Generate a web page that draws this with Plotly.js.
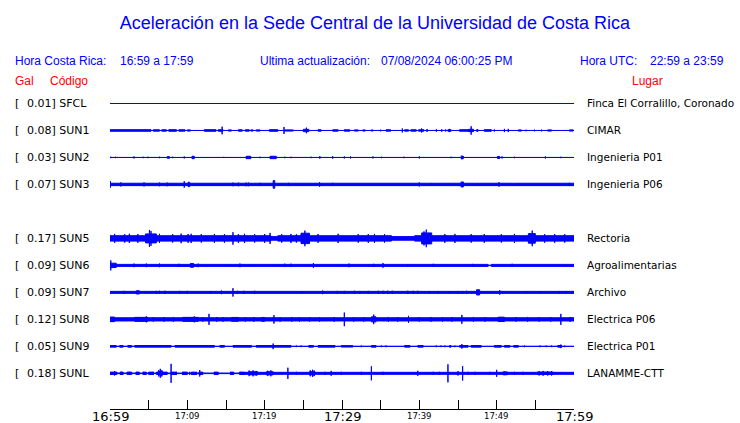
<!DOCTYPE html>
<html><head><meta charset="utf-8">
<script src="https://cdn.plot.ly/plotly-3.0.1.min.js"></script>
<style>html,body{margin:0;padding:0;background:#fff}#chart{width:740px;height:423px}</style>
</head><body><div id="chart"></div>
<script>
// ---- data ----
const title = 'Aceleración en la Sede Central de la Universidad de Costa Rica';
const codes  = ['SFCL','SUN1','SUN2','SUN3',null,'SUN5','SUN6','SUN7','SUN8','SUN9','SUNL'];
const gal    = ['0.01','0.08','0.03','0.07',null,'0.17','0.09','0.09','0.12','0.05','0.18'];
const places = ['Finca El Corralillo, Coronado','CIMAR','Ingenieria P01','Ingenieria P06',null,'Rectoria','Agroalimentarias','Archivo','Electrica P06','Electrica P01','LANAMME-CTT'];
const tickMinutes = [0,5,10,15,20,25,30,35,40,45,50,55,60];
const labelMinutes = [0,10,20,30,40,50,60];
const labelTexts = ['16:59','17:09','17:19','17:29','17:39','17:49','17:59'];
const labelMajor = [true,false,false,true,false,false,true];

// waveform activity: [startMinute, endMinute, halfAmplitude]
const sfcl = [[0,60,0]];
const sun1 = [[0,60,0],[0,5.3,0.8],[5.6,6.4,0.7],[6.7,7.3,0.7],[7.6,8.6,0.8],[8.9,9.7,0.7],[10.0,10.4,0.6],[12.2,13.7,0.8],[14.0,14.6,0.8],[14.5,14.5,3.8],[15.3,15.7,0.6],[16.6,17.1,0.7],[17.5,18.0,0.7],[18.2,18.5,0.6],[18.9,19.4,0.6],[20.6,21.7,0.8],[22.5,22.5,3.5],[22.6,23.7,0.6],[25.0,25.7,1.2],[25.4,25.4,2.8],[26.9,27.3,0.7],[28.8,29.5,0.7],[30.3,31.0,0.7],[31.6,32.1,0.6],[32.7,33.0,0.6],[33.8,34.0,0.6],[35.0,35.0,0.8],[35.7,36.3,0.7],[37.8,37.8,2.0],[38.1,38.6,0.7],[38.9,39.6,0.7],[39.9,40.6,0.7],[40.3,40.3,2.0],[41.0,41.0,1.5],[42.2,42.2,1.2],[42.9,42.9,1.2],[43.4,43.4,1.0],[43.7,44.1,0.8],[43.9,43.9,1.6],[45.2,46.5,0.8],[46.4,47.0,1.2],[46.7,46.7,4.2],[47.4,47.6,0.8],[48.4,49.3,0.8],[49.7,49.7,1.0],[51.0,51.0,1.6],[51.5,51.5,1.6],[52.8,53.2,0.6],[53.8,53.8,0.8],[54.9,54.9,0.8],[55.8,55.8,0.8],[56.6,57.1,0.6],[59.4,59.9,0.6]];
const sun2 = [[0,60,0],[0.1,0.1,0.7],[0.7,0.7,0.7],[3.1,3.1,1],[4.3,4.3,0.7],[4.9,4.9,0.7],[6.4,6.4,0.7],[7.4,7.7,0.8],[8.1,8.1,0.7],[9.6,9.6,1],[10.6,10.9,1.2],[14.7,14.7,0.6],[17.6,18.2,1.2],[19.4,19.4,0.7],[20.7,21.5,1.2],[22.6,22.6,0.7],[23.4,23.4,0.7],[26.0,26.0,0.7],[27.1,27.1,1],[27.2,27.2,0.7],[28.8,28.8,1.2],[30.3,30.3,1],[31.1,31.1,1],[34.0,34.0,1],[35.1,35.1,0.7],[38.0,38.0,0.7],[40.0,40.0,1],[44.1,44.1,0.7],[45.4,45.7,1.2],[45.5,45.5,1.8],[50.1,50.4,1],[50.7,50.7,1],[52.3,52.3,0.7],[56.3,56.3,1],[58.3,58.3,0.7]];
const sun3 = [[0,60,1.2],[0.05,0.05,3.2],[1.4,1.4,2],[4.4,4.4,2],[6.4,6.4,1.8],[7.4,7.4,1.8],[9.6,9.6,3.2],[10.1,10.3,2.2],[15.9,15.9,1.8],[16.6,16.6,1.8],[17.6,17.6,1.8],[17.9,17.9,1.8],[19.4,19.4,1.6],[21.1,21.3,3.8],[23.1,23.1,1.6],[27.1,27.1,2.2],[28.8,28.8,1.6],[40.0,40.0,2],[41.6,41.6,1.4],[45.4,45.7,2.5],[47.5,47.5,1.4],[50.3,50.3,2.2],[52.8,52.8,1.4],[59.4,59.4,1.6]];
const sun5 = [[0,20.8,2.7],[20.8,21.7,1.8],[21.7,36.4,2.7],[36.4,39.4,1.8],[39.4,60,2.7],[4.6,6.0,4.5],[5.1,5.1,8.5],[5.3,5.3,7.5],[15.9,15.9,6.2],[20.7,20.7,5.5],[24.7,25.8,5.2],[25.2,25.2,7.8],[40.3,41.6,5.5],[40.6,40.6,7],[40.9,40.9,8.8],[54.1,55.0,4.8],[54.6,54.6,7.8],
  [0.6,0.6,4.5],[1.9,1.9,4.2],[2.5,2.5,4.6],[3.6,3.6,4.4],[6.4,6.4,4.6],[8.1,8.1,4.2],[9.2,9.2,4.8],[10.1,10.1,4.4],[10.5,10.5,4.6],[11.8,11.8,4.2],[13.5,13.5,4.4],[14.8,14.8,4.3],[16.6,16.6,4.4],[17.4,17.4,4.6],[18.7,18.7,4.2],[20.0,20.0,4.4],[22.2,22.2,4.3],[23.4,23.4,4.5],[24.1,24.1,4.2],[26.9,26.9,4.4],[29.5,29.5,4.6],[32.1,32.1,4.3],[33.4,33.4,4.4],[34.2,34.2,4.5],[35.5,35.5,4.2],[43.3,43.3,4.4],[44.6,44.6,4.5],[46.7,46.7,4.3],[48.4,48.4,4.4],[50.6,50.6,4.2],[52.3,52.3,4.5],[56.2,56.2,4.3],[57.5,57.5,4.4],[58.8,58.8,4.2]];
const sun6 = [[0,48.9,1.0],[48.9,49.3,0.2],[49.3,60,1.0],[0.0,0.8,2.2],[0.1,0.1,5],[3.1,3.1,1.8],[4.7,4.7,1.8],[6.4,6.4,1.8],[8.9,8.9,1.6],[10.4,10.8,1.9],[11.4,11.4,1.8],[16.8,16.8,1.8],[22.6,22.6,1.7],[23.4,23.4,1.7],[26.3,26.3,2.3],[30.9,30.9,1.8],[34.1,34.1,1.6],[35.3,35.3,2.3],[38.5,38.5,1.4],[41.8,41.8,1.6],[46.9,46.9,1.5],[52.0,52.0,1.6]];
const sun7 = [[0,60,1.0],[1.8,1.8,1.5],[3.4,3.8,1.6],[6.0,6.0,1.5],[6.4,6.4,1.6],[7.1,7.1,1.6],[9.0,9.0,1.5],[10.0,10.0,1.5],[13.0,13.0,1.4],[14.4,14.4,1.8],[15.9,15.9,4.2],[16.5,16.5,1.6],[17.3,17.3,1.6],[18.7,18.7,1.6],[24.8,24.8,1.3],[27.5,27.5,1.8],[29.4,29.4,1.5],[30.3,30.3,1.5],[31.6,31.6,1.6],[32.3,32.3,1.4],[33.4,33.4,1.5],[34.7,34.7,1.6],[35.3,35.3,1.6],[35.9,35.9,1.6],[36.5,36.5,1.6],[38.5,38.5,1.6],[39.2,39.2,1.6],[39.8,39.8,1.6],[41.3,41.3,1.4],[42.4,42.4,1.4],[43.9,43.9,1.4],[45.0,45.0,1.4],[45.6,45.6,1.4],[46.1,46.1,1.6],[47.4,47.8,2.6],[50.4,50.4,2.2],[53.8,53.8,1.2],[55.6,55.6,1.2],[58.1,58.1,1.4],[59.0,59.0,1.4],[59.7,59.7,1.4]];
const sun8 = [[0,60,1.6],[0,0.6,2.3],[3.2,4.9,2.0],[4.7,4.7,3],[9.4,11.4,2.0],[10.9,10.9,3],[12.8,12.8,5.5],[15.7,16.6,1.9],[19.6,20.0,1.9],[21.2,21.2,4.2],[27.1,27.1,2.3],[30.3,30.3,6.8],[33.8,34.4,2.5],[34.1,34.1,4.8],[38.6,38.6,3.5],[45.5,45.5,4.5],[50.2,51.0,2.2],[58.3,58.3,5.5],
  [5.6,5.6,2.3],[7.0,7.0,2.3],[8.2,8.2,2.4],[12.0,12.0,2.3],[13.8,13.8,2.4],[14.6,14.6,2.3],[17.5,17.5,2.3],[18.6,18.6,2.4],[22.0,22.0,2.3],[23.5,23.5,2.4],[24.5,24.5,2.3],[25.8,25.8,2.3],[29.0,29.0,2.4],[31.5,31.5,2.3],[32.8,32.8,2.3],[36.0,36.0,2.4],[37.2,37.2,2.3],[40.0,40.0,2.3],[41.5,41.5,2.4],[43.0,43.0,2.3],[44.2,44.2,2.3],[47.0,47.0,2.4],[48.5,48.5,2.3],[52.5,52.5,2.3],[54.0,54.0,2.4],[55.5,55.5,2.3],[57.0,57.0,2.3],[59.5,59.5,2.4]];
const sun9 = [[0,60,0],[0,0.8,0.8],[1.25,1.7,0.8],[2.3,2.8,0.8],[3.2,7.9,0.8],[8.4,13.5,0.8],[14.2,14.8,0.8],[15.9,18.3,0.8],[18.9,23.4,0.8],[24.1,24.1,0.8],[24.7,24.7,0.8],[25.7,26.3,0.8],[26.9,29.1,0.8],[29.9,31.4,0.7],[32.5,32.5,0.8],[33.8,34.4,0.8],[35.1,35.1,0.8],[35.7,35.7,0.8],[38.1,38.8,0.8],[39.8,40.5,0.8],[42.2,42.2,0.8],[42.8,42.8,0.8],[43.3,43.3,0.8],[43.9,44.1,0.8],[44.6,44.6,0.8],[45.2,46.3,0.8],[46.7,48.0,0.8],[49.7,50.6,0.8],[51.0,51.7,0.8],[52.2,52.8,0.8],[53.6,53.6,0.8],[55.6,55.6,0.8],[56.4,56.4,0.8],[57.1,57.1,0.8],[57.9,58.4,0.8],[58.8,58.8,0.8],[21.1,21.1,2.8],[45.5,45.5,2.2],[58.3,58.3,1.8]];
const sunl = [[0,17.4,0.3],[17.4,60,1.0],[0,0.9,1.2],[1.3,1.7,1.2],[2.2,2.8,1.2],[3.4,3.8,1.2],[4.3,4.7,1.2],[5.0,5.6,1.2],[6.0,7.4,1.2],[7.9,8.6,1.2],[9.4,10.0,1.2],[10.5,11.1,1.2],[11.5,12.0,1.2],[13.5,14.0,1.2],[15.6,16.0,1.2],[16.8,17.4,1.2],
  [7.9,7.9,9.5],[23.0,23.0,5.6],[33.8,33.8,7],[43.7,43.7,9],[45.6,45.6,7.2],[0.6,0.6,2.2],[1.5,1.5,1.6],
  [6.2,6.8,1.6],[6.3,6.3,3.2],[6.5,6.5,4.5],[6.7,6.7,3.2],[11.6,11.6,3.2],
  [17.9,19.1,1.5],[18.0,18.0,2.8],[18.5,18.5,3.0],[18.9,18.9,2.4],
  [20.2,21.1,1.5],[20.4,20.4,2.6],[20.8,20.8,3.0],
  [25.8,26.5,1.6],[25.9,25.9,3.0],[26.2,26.2,3.6],[26.4,26.4,2.8],
  [28.6,28.6,2.4],[39.8,39.8,2.5],[45.0,45.0,2.2],[50.0,50.0,3.5],[50.8,51.4,1.4],[51.0,51.0,1.8],
  [55.3,57.3,1.2],[55.5,55.5,2.2],[56.0,56.0,2.4],[56.6,56.6,2.2],[57.1,57.1,2.2],
  [2.5,2.5,1.5],[3.4,3.4,1.5],[4.3,4.3,1.5],[5.6,5.6,1.5],[8.6,8.6,1.5],[9.4,9.4,1.5],[10.3,10.3,1.5],[11.2,11.2,1.5],[13.5,13.5,1.5],[15.6,15.6,1.5],[16.8,16.8,1.5],[24.1,24.1,1.5],[27.8,27.8,1.5],[29.9,29.9,1.5],[32.5,32.5,1.5],[35.3,35.3,1.5],[41.8,41.8,1.5],[42.6,42.6,1.5],[46.3,46.3,1.5],[47.2,47.2,1.5],[49.1,49.1,1.5],[52.3,52.3,1.5],[53.4,53.4,1.5],[55.3,55.3,1.5],[56.6,56.6,1.5]];
const waves = [sfcl,sun1,sun2,sun3,null,sun5,sun6,sun7,sun8,sun9,sunl];

// ---- layout geometry ----
const W=740,H=423,L=110.3,R=574.3,T=89.8,B=409,ROW=27;
const px2x = p => (p-L)/(R-L);
const px2y = p => (B-p)/(B-T);
const yBottom = (B-103.3)/ROW, yTop = -(103.3-T)/ROW;
const BLUE='#0000FF', RED='#FF0000';

const traces=[];
waves.forEach((ev,row)=>{
  if(!ev) return;
  const xs=[],ys=[];
  ev.forEach(([t0,t1,a])=>{
    const h=a/ROW;
    xs.push(t0,t0,t1,t1,t0,null);
    ys.push(row-h,row+h,row+h,row-h,row-h,null);
  });
  traces.push({x:xs,y:ys,mode:'lines',fill:'toself',fillcolor:BLUE,
    line:{color:BLUE,width:1},connectgaps:false,hoverinfo:'skip',showlegend:false});
});

const ann=[];
const A=(o)=>ann.push(Object.assign({showarrow:false,borderpad:0,borderwidth:0},o));
const hdrFont={family:'Liberation Sans, Arial, sans-serif',size:12,color:BLUE};
const redFont={family:'Liberation Sans, Arial, sans-serif',size:12,color:RED};
A({text:'Hora Costa Rica:',xref:'paper',yref:'paper',x:px2x(15),y:px2y(61),xanchor:'left',yanchor:'middle',font:hdrFont});
A({text:'16:59 a 17:59',xref:'paper',yref:'paper',x:px2x(120),y:px2y(61),xanchor:'left',yanchor:'middle',font:hdrFont});
A({text:'Ultima actualización:',xref:'paper',yref:'paper',x:px2x(260),y:px2y(61),xanchor:'left',yanchor:'middle',font:hdrFont});
A({text:'07/08/2024 06:00:25 PM',xref:'paper',yref:'paper',x:px2x(381),y:px2y(61),xanchor:'left',yanchor:'middle',font:hdrFont});
A({text:'Hora UTC:',xref:'paper',yref:'paper',x:px2x(580),y:px2y(61),xanchor:'left',yanchor:'middle',font:hdrFont});
A({text:'22:59 a 23:59',xref:'paper',yref:'paper',x:px2x(650),y:px2y(61),xanchor:'left',yanchor:'middle',font:hdrFont});
A({text:'Gal',xref:'paper',yref:'paper',x:px2x(15),y:px2y(80.5),xanchor:'left',yanchor:'middle',font:redFont});
A({text:'Código',xref:'paper',yref:'paper',x:px2x(50),y:px2y(80.5),xanchor:'left',yanchor:'middle',font:redFont});
A({text:'Lugar',xref:'paper',yref:'paper',x:px2x(632),y:px2y(80.5),xanchor:'left',yanchor:'middle',font:redFont});

const lblFont={family:'DejaVu Sans, sans-serif',size:11,color:'#000'};
const placeFont={family:'DejaVu Sans, sans-serif',size:10.5,color:'#000'};
codes.forEach((c,row)=>{
  if(!c) return;
  A({text:'[',xref:'paper',yref:'y',x:px2x(15),y:row,xanchor:'left',yanchor:'middle',font:lblFont});
  A({text:gal[row]+'] '+c,xref:'paper',yref:'y',x:px2x(27),y:row,xanchor:'left',yanchor:'middle',font:lblFont});
  A({text:places[row],xref:'paper',yref:'y',x:px2x(587),y:row,xanchor:'left',yanchor:'middle',font:placeFont});
});
labelMinutes.forEach((m,i)=>{
  A({text:labelTexts[i],xref:'x',yref:'paper',x:m,y:px2y(416.5),xanchor:'center',yanchor:'middle',
     font:{family:'DejaVu Sans, sans-serif',size:labelMajor[i]?13:8.5,color:'#000'}});
});

const layout={
  width:W,height:H,paper_bgcolor:'#fff',plot_bgcolor:'#fff',
  margin:{l:L,r:W-R,t:T,b:H-B,pad:0},
  title:{text:title,font:{family:'Liberation Sans, Arial, sans-serif',size:18,color:BLUE},
    xref:'container',yref:'container',x:375/W,xanchor:'center',y:1-22.5/H,yanchor:'middle'},
  xaxis:{range:[0,60],tickmode:'array',tickvals:tickMinutes,ticks:'inside',ticklen:9,tickwidth:1,tickcolor:'#000',
    showline:true,linecolor:'#000',linewidth:1,showgrid:false,zeroline:false,showticklabels:false,fixedrange:true},
  yaxis:{range:[yBottom,yTop],showline:false,showgrid:false,zeroline:false,showticklabels:false,ticks:'',fixedrange:true},
  annotations:ann,showlegend:false
};
Plotly.newPlot('chart',traces,layout,{staticPlot:true,displayModeBar:false});
</script></body></html>
